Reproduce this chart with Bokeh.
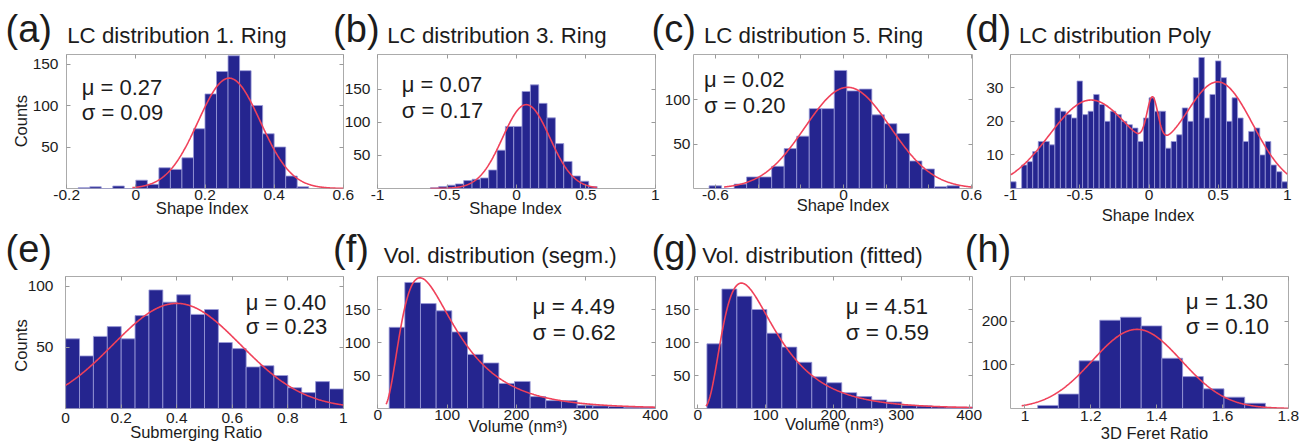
import numpy as np
from bokeh.plotting import figure
from bokeh.models import Label, FixedTicker, CustomJSTickFormatter, LinearAxis, Range1d
from bokeh.layouts import row, column
from bokeh.embed import file_html
from bokeh.resources import INLINE

# ---------------- data ----------------
# (a) LC distribution 1. Ring
a_bin_start, a_bin_width = -0.166667, 0.033333
a_counts = [1, 2, 0, 3, 0, 10, 5, 25, 23, 37, 72, 114, 141, 160, 142, 100, 66, 50, 15, 2]
a_stats = ["μ = 0.27", "σ = 0.09"]
a_fit = dict(mu=0.27, sigma=0.09, peak=133, lo=-0.01, hi=0.6)
a_xticks = [-0.2, 0, 0.2, 0.4, 0.6]
a_yticks = [50, 100, 150]

# (b) LC distribution 3. Ring
b_bin_start, b_bin_width = -0.62, 0.06
b_counts = [1, 3, 5, 7, 12, 14, 16, 28, 58, 94, 94, 147, 157, 129, 107, 68, 41, 19, 11, 3]
b_stats = ["μ = 0.07", "σ = 0.17"]
b_fit = dict(mu=0.07, sigma=0.17, peak=127, lo=-0.62, hi=0.58)
b_xticks = [-1, -0.5, 0, 0.5, 1]
b_yticks = [50, 100, 150]

# (c) LC distribution 5. Ring
c_bin_start, c_bin_width = -0.63, 0.0587
c_counts = [3, 0, 5, 13, 13, 25, 45, 59, 90, 90, 133, 110, 112, 83, 73, 62, 31, 22, 2, 3]
c_stats = ["μ = 0.02", "σ = 0.20"]
c_fit = dict(mu=0.02, sigma=0.20, peak=114, lo=-0.56, hi=0.605)
c_xticks = [-0.6, -0.4, -0.2, 0, 0.2, 0.4, 0.6]
c_xlabels = [-0.6, 0, 0.6]
c_yticks = [50, 100]

# (d) LC distribution Poly
d_bin_start, d_bin_width = -1.0, 0.04
d_counts = [2, 0, 7, 8, 11, 14, 14, 13, 24, 23, 22, 21, 32, 22, 23, 28, 25, 20, 23, 22,
            20, 19, 18, 14, 21, 27, 23, 23, 12, 14, 16, 24, 20, 33, 39, 21, 28, 38, 33, 20,
            27, 21, 14, 17, 18, 10, 14, 7, 5, 2]
d_fit_peaks = [26.3, 13.4, 31.5]
d_fit_centers = [-0.42, 0.025, 0.50]
d_fit_widths = [0.30, 0.04, 0.25]
d_xticks = [-1, -0.5, 0, 0.5, 1]
d_yticks = [10, 20, 30]

# (e) Submerging ratio
e_bin_start, e_bin_width = 0.0, 0.05
e_counts = [57, 43, 59, 67, 57, 76, 97, 87, 93, 77, 81, 54, 49, 34, 35, 27, 17, 13, 22, 16]
e_stats = ["μ = 0.40", "σ = 0.23"]
e_fit = dict(mu=0.40, sigma=0.23, peak=86, lo=0.0, hi=1.0)
e_xticks = [0, 0.2, 0.4, 0.6, 0.8, 1]
e_yticks = [50, 100]

# (f) Vol. distribution (segm.)  -- log-normal fit
f_bin_start, f_bin_width = 16.3, 22.6
f_counts = [123, 191, 159, 148, 116, 82, 69, 38, 41, 18, 12, 12, 5, 4, 3, 2, 2]
f_stats = ["μ = 4.49", "σ = 0.62"]
f_fit = dict(mu=4.49, sigma=0.62, peak=198, lo=12, hi=400)
f_xticks = [0, 100, 200, 300, 400]
f_yticks = [50, 100, 150]

# (g) Vol. distribution (fitted)  -- log-normal fit
g_bin_start, g_bin_width = 13.3, 22.1
g_counts = [98, 181, 170, 150, 114, 93, 70, 48, 39, 24, 18, 13, 10, 5, 4, 3, 2, 2]
g_stats = ["μ = 4.51", "σ = 0.59"]
g_fit = dict(mu=4.51, sigma=0.59, peak=190, lo=12, hi=405)
g_xticks = [0, 100, 200, 300, 400]
g_yticks = [50, 100, 150]

# (h) 3D Feret ratio
h_bin_start, h_bin_width = 1.0385, 0.0629
h_counts = [7, 33, 109, 202, 209, 189, 115, 73, 45, 26, 12]
h_stats = ["μ = 1.30", "σ = 0.10"]
h_fit = dict(mu=1.34, sigma=0.135, peak=181, lo=0.99, hi=1.8)
h_xticks = [1, 1.2, 1.4, 1.6, 1.8]
h_yticks = [100, 200]

# ---------------- style ----------------
FONT = "Liberation Sans"
INK = "#1c1c1c"
BAR = "#25258f"
BAR_EDGE = "#9a9ad8"
FIT = "#f0415a"
FRAME = "#ababab"
TICK = "#9a9a9a"
W, H = 1299, 445
BASE_SHIFT = 0.38   # em offset between label anchor and drawn baseline


def gauss(x, mu, sigma, peak):
    return peak * np.exp(-(x - mu) ** 2 / (2 * sigma ** 2))


def lognorm(x, mu, sigma, peak):
    mode = np.exp(mu - sigma ** 2)
    f = lambda t: np.exp(-(np.log(t) - mu) ** 2 / (2 * sigma ** 2)) / t
    return peak * f(x) / f(mode)


def panel(borders, frame, xr, yr, xticks, yticks, xstand, ystand, bins, fit, xlabels=None):
    bl, br, bt, bb = borders
    fw, fh = frame
    p = figure(width=bl + fw + br, height=bt + fh + bb,
               x_range=Range1d(*xr), y_range=Range1d(*yr),
               output_backend="svg", toolbar_location=None,
               min_border_left=bl, min_border_right=br,
               min_border_top=bt, min_border_bottom=bb)
    p.background_fill_color = "white"
    p.border_fill_color = None
    p.outline_line_color = FRAME
    p.outline_line_width = 1
    p.grid.visible = False

    show = xlabels if xlabels is not None else xticks
    xa = p.xaxis[0]
    ya = p.yaxis[0]
    xa.ticker = FixedTicker(ticks=xticks)
    ya.ticker = FixedTicker(ticks=yticks)
    xa.formatter = CustomJSTickFormatter(args=dict(show=show),
        code="return show.some(v => Math.abs(v - tick) < 1e-9) ? String(tick) : '';")
    ya.formatter = CustomJSTickFormatter(code="return String(tick);")
    for ax in (xa, ya):
        ax.axis_line_color = None
        ax.major_tick_in = 4
        ax.major_tick_out = 0
        ax.major_tick_line_color = TICK
        ax.minor_tick_line_color = None
        ax.major_label_text_font = FONT
        ax.major_label_text_font_size = "15.5px"
        ax.major_label_text_color = INK
    xa.major_label_standoff = xstand
    ya.major_label_standoff = ystand

    for side, ticks in (("above", xticks), ("right", yticks)):
        ax = LinearAxis(ticker=FixedTicker(ticks=ticks),
                        formatter=CustomJSTickFormatter(code="return '';"),
                        axis_line_color=None, major_tick_in=4, major_tick_out=0,
                        major_tick_line_color=TICK, minor_tick_line_color=None,
                        major_label_standoff=0, major_label_text_font_size="1px")
        p.add_layout(ax, side)

    start, width, counts = bins
    left = start + width * np.arange(len(counts))
    p.quad(left=left, right=left + width, bottom=0, top=counts,
           fill_color=BAR, line_color=BAR_EDGE, line_width=0.8)

    xs, ys = fit
    p.line(xs, ys, line_color=FIT, line_width=1.6)
    return p


def fit_curve(kind, spec):
    xs = np.linspace(spec["lo"], spec["hi"], 400)
    fn = gauss if kind == "gauss" else lognorm
    return xs, fn(xs, spec["mu"], spec["sigma"], spec["peak"])


# ---------------- top row (canvas y 0..225) ----------------
pa = panel((66, 15, 54, 37), (277, 134), (-0.2005, 0.6005), (0, 161.5), a_xticks, a_yticks, 1, 8,
           (a_bin_start, a_bin_width, a_counts), fit_curve("gauss", a_fit))

pb = panel((49, 15, 54, 37), (278, 134), (-1.0005, 1.0005), (0, 203), b_xticks, b_yticks, 1, 7,
           (b_bin_start, b_bin_width, b_counts), fit_curve("gauss", b_fit))
pb.margin = (0, 0, 0, -30)

pc = panel((45, 15, 54, 37), (279, 134), (-0.703, 0.605), (0, 151), c_xticks, c_yticks, 1, 3,
           (c_bin_start, c_bin_width, c_counts), fit_curve("gauss", c_fit), xlabels=c_xlabels)
pc.margin = (0, 0, 0, -22)

d_x = np.linspace(-1, 1, 400)
d_y = sum(gauss(d_x, m, s, a) for a, m, s in zip(d_fit_peaks, d_fit_centers, d_fit_widths))
pd_ = panel((47, 12, 54, 37), (277, 134), (-1.0005, 1.0005), (0, 39.9), d_xticks, d_yticks, 1, 7,
            (d_bin_start, d_bin_width, d_counts), (d_x, d_y))
pd_.margin = (0, 0, 0, -24)

# ---------------- bottom row (canvas y 225..445) ----------------
pe = panel((65, 15, 50, 35), (278, 135), (-0.0005, 1.0005), (0, 108), e_xticks, e_yticks, 4, 12,
           (e_bin_start, e_bin_width, e_counts), fit_curve("gauss", e_fit))

pf = panel((49, 15, 51, 37), (278, 132), (-0.5, 400.5), (0, 200), f_xticks, f_yticks, 1, 7,
           (f_bin_start, f_bin_width, f_counts), fit_curve("lognorm", f_fit))
pf.margin = (0, 0, 0, -30)

pg = panel((46, 15, 51, 37), (278, 132), (-5, 405), (0, 200), g_xticks, g_yticks, 1, 4,
           (g_bin_start, g_bin_width, g_counts), fit_curve("lognorm", g_fit))
pg.margin = (0, 0, 0, -22)

ph = panel((47, 11, 50, 37), (278, 133), (0.956, 1.8005), (0, 302), h_xticks, h_yticks, 2, 3,
           (h_bin_start, h_bin_width, h_counts), fit_curve("gauss", h_fit))
ph.margin = (0, 0, 0, -24)

# ---------------- text layer (page coordinates) ----------------
ov = figure(width=W, height=H, x_range=Range1d(0, W), y_range=Range1d(0, H),
            output_backend="svg", toolbar_location=None, min_border=0,
            x_axis_location=None, y_axis_location=None)
ov.background_fill_color = None
ov.border_fill_color = None
ov.outline_line_color = None
ov.grid.visible = False
ov.margin = (-H, 0, 0, 0)


def txt(x, y, text, size, align="left", vertical=False):
    """x, y: page position of the text baseline (left end, or centre)."""
    if vertical:
        x = x - BASE_SHIFT * size
    else:
        y = y - BASE_SHIFT * size
    ov.add_layout(Label(x=x, y=H - y, x_units="screen", y_units="screen", text=text,
                        text_font=FONT, text_font_size=f"{size}px", text_color=INK,
                        text_align=align, text_baseline="alphabetic",
                        angle=(np.pi / 2 if vertical else 0.0)))


# letters and titles
txt(5, 43.3, "(a)", 38)
txt(66.7, 43.3, "LC distribution 1. Ring", 22.3)
txt(332.6, 43.3, "(b)", 38)
txt(386.7, 43.3, "LC distribution 3. Ring", 22.3)
txt(651, 42.7, "(c)", 38)
txt(703.4, 43.3, "LC distribution 5. Ring", 22.3)
txt(964.3, 43.3, "(d)", 38)
txt(1018.4, 43.3, "LC distribution Poly", 22.3)
txt(5, 262.7, "(e)", 38)
txt(332.6, 263.3, "(f)", 38)
txt(383.3, 263.3, "Vol. distribution (segm.)", 22.3)
txt(651, 263, "(g)", 38)
txt(701.7, 263, "Vol. distribution (fitted)", 22.3)
txt(964.3, 262.7, "(h)", 38)

# fit statistics
txt(81.2, 95, a_stats[0], 22)
txt(81.2, 120, a_stats[1], 22)
txt(401.2, 92.7, b_stats[0], 22)
txt(401.2, 118.3, b_stats[1], 22)
txt(703.5, 87.3, c_stats[0], 22)
txt(703.5, 113.3, c_stats[1], 22)
txt(245.2, 310, e_stats[0], 22)
txt(245.2, 334.3, e_stats[1], 22)
txt(532, 315, f_stats[0], 22.5)
txt(532, 340.7, f_stats[1], 22.5)
txt(845.2, 315, g_stats[0], 22.5)
txt(845.2, 340.7, g_stats[1], 22.5)
txt(1185.2, 309.3, h_stats[0], 22.5)
txt(1185.2, 335, h_stats[1], 22.5)

# axis titles
txt(201.7, 213.3, "Shape Index", 16.5, "center")
txt(515, 213.3, "Shape Index", 16.5, "center")
txt(842.5, 210.7, "Shape Index", 16.5, "center")
txt(1147.5, 220.5, "Shape Index", 16.5, "center")
txt(27, 120.7, "Counts", 16.5, "center", vertical=True)
txt(195.7, 438, "Submerging Ratio", 16.5, "center")
txt(26.7, 345, "Counts", 16.5, "center", vertical=True)
txt(517.5, 431.7, "Volume (nm³)", 16.5, "center")
txt(834, 430, "Volume (nm³)", 16.5, "center")
txt(1154, 439, "3D Feret Ratio", 16.5, "center")

layout = column(row(pa, pb, pc, pd_), row(pe, pf, pg, ph), ov)
open("out.html", "w").write(file_html(layout, INLINE))
